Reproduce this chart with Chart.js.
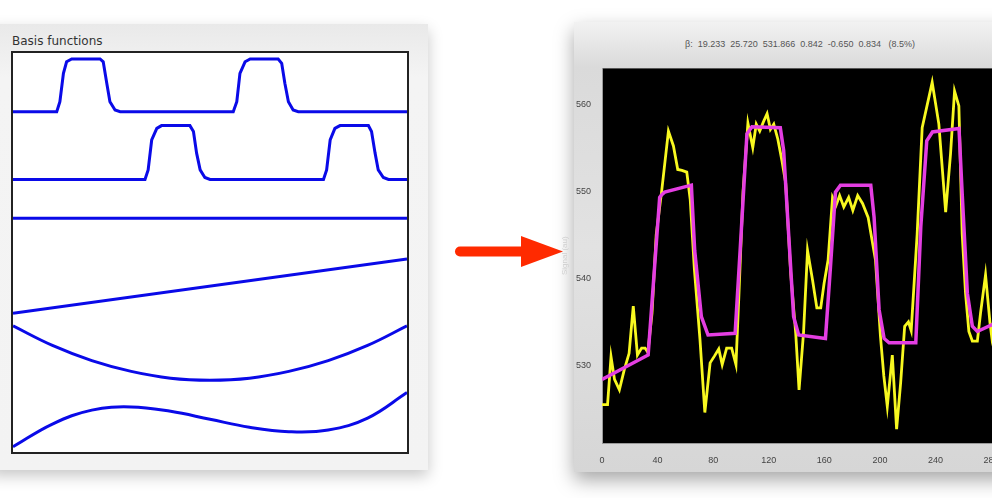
<!DOCTYPE html>
<html>
<head>
<meta charset="utf-8">
<script src="https://cdn.jsdelivr.net/npm/chart.js@4.4.0/dist/chart.umd.min.js"></script>
<style>
  body { margin: 0; width: 992px; height: 498px; overflow: hidden; background: #fff; position: relative; font-family: "DejaVu Sans", sans-serif; }
  #leftPanel { position: absolute; left: -10px; top: 24px; width: 438px; height: 446px; background: linear-gradient(#e9e9e9, #f4f4f4 12%, #f3f3f3); box-shadow: 0 6px 14px rgba(0,0,0,0.22); }
  #leftTitle { position: absolute; left: 12px; top: 34px; font-size: 12px; color: #333; }
  #basisBox { position: absolute; left: 11px; top: 51px; width: 394px; height: 399px; border: 2px solid #222; background: #fff; }
  #rightPanel { position: absolute; left: 574px; top: 22px; width: 440px; height: 450px; background: linear-gradient(#f2f2f2, #dadada 10%, #e2e2e2 50%, #d6d6d6); box-shadow: 0 8px 18px rgba(0,0,0,0.35); }
  #betaText { position: absolute; left: 600px; width: 400px; top: 39px; text-align: center; font-family: "Liberation Sans", sans-serif; font-size: 9px; color: #555; white-space: pre; }
  #signalChart { position: absolute; left: 560px; top: 60px; }
  #arrow { position: absolute; left: 450px; top: 230px; }
</style>
</head>
<body>
<div id="leftPanel"></div>
<div id="leftTitle">Basis functions</div>
<div id="basisBox"><canvas id="basisChart" width="394" height="399"></canvas></div>
<svg id="arrow" width="120" height="44">
  <line x1="10" y1="21.5" x2="75" y2="21.5" stroke="#ff2a00" stroke-width="10" stroke-linecap="round"/>
  <polygon points="71,6 113,21.5 71,37" fill="#ff2a00"/>
</svg>
<div id="rightPanel"></div>
<div id="betaText">β:  19.233  25.720  531.866  0.842  -0.650  0.834   (8.5%)</div>
<canvas id="signalChart" width="445" height="403"></canvas>
<script>
// basis functions, x in % of window, y in % of box height
const b1x = [0, 11.1, 11.9, 12.8, 13.6, 14.9, 22.1, 22.9, 23.8, 24.6, 25.9, 27.2, 55.9, 56.8, 57.6, 58.9, 60.2, 67.3, 68.2, 69.0, 69.9, 71.1, 72.4, 100];
const b1y = [85.3, 85.3, 87.8, 94.9, 97.8, 98.5, 98.5, 97.8, 92.4, 87.8, 85.7, 85.3, 85.3, 87.8, 94.9, 97.8, 98.5, 98.5, 97.4, 92.4, 87.8, 85.7, 85.3, 85.3];
const b2x = [0, 33.5, 34.3, 35.2, 36.5, 37.7, 44.9, 45.8, 46.6, 47.5, 48.7, 50.0, 78.8, 79.6, 80.5, 81.7, 83.0, 90.2, 91.0, 91.9, 92.7, 94.0, 95.3, 100];
const b2y = [68.3, 68.3, 70.7, 78.2, 81.1, 81.8, 81.8, 80.3, 74.9, 70.7, 68.8, 68.3, 68.3, 70.7, 78.2, 81.1, 81.8, 81.8, 80.3, 74.9, 70.7, 68.8, 68.3, 68.3];
const b3x = [0, 100];
const b3y = [58.6, 58.6];
const b4x = [0, 100];
const b4y = [34.8, 48.4];
const b5x = [0, 10, 20, 30, 40, 50, 60, 70, 80, 90, 100];
const b5y = [31.6, 26.7, 22.9, 20.2, 18.5, 18.0, 18.5, 20.2, 22.9, 26.7, 31.6];
const b6x = [0, 10, 20, 30, 40, 50, 60, 70, 80, 90, 100];
const b6y = [1.3, 7.0, 10.5, 11.3, 10.2, 8.2, 6.2, 5.1, 5.5, 8.5, 14.9];

// signal (yellow) and fit (magenta)
const sigX = [0, 4, 6.5, 9, 12.5, 16, 19.5, 22.5, 25.5, 28.5, 31, 33, 36, 39, 43, 47.8, 51.4, 54.5, 57.5, 61, 63.5, 66.5, 70.5, 74, 77.8, 81, 84, 86.5, 89.7, 93.3, 96.4, 98.5, 101.5, 105, 108.5, 111, 113.5, 116, 118.8, 121.2, 123.6, 126.5, 129.5, 132.2, 135.8, 139.4, 141.8, 145, 147.9, 151.5, 154.6, 157.4, 159.8, 162.7, 165.9, 168.5, 171, 174, 177.5, 180.5, 184, 187.5, 191.5, 196.8, 200.4, 202.8, 205.3, 208.9, 212, 214.9, 217.8, 220.5, 222.5, 226.8, 230.4, 237.6, 242.4, 247.3, 250.8, 253.7, 256.8, 259.2, 261.6, 264, 266.5, 270.1, 272.4, 276, 279.2, 281, 285];
const sigY = [525.5, 525.5, 531.0, 528.4, 527.2, 529.5, 531.4, 536.8, 531.2, 532.0, 532.0, 531.5, 536, 545, 550.1, 556.9, 555.2, 552.5, 552.4, 552.2, 549, 541, 533, 524.6, 530.3, 531.1, 531.9, 530.1, 532, 532, 530.1, 538, 550, 557.8, 555.0, 557.7, 556.9, 557.9, 558.9, 557.1, 557.7, 556.0, 553.5, 550.9, 540.6, 533.7, 527.2, 533.7, 543.2, 539.8, 536.6, 536.6, 539.4, 542.1, 549.3, 548.4, 549.5, 548.2, 549.3, 547.8, 549.5, 548.6, 547.0, 542.1, 533.3, 528.8, 525.3, 531.2, 522.7, 528, 534.5, 535, 534, 545.1, 557.3, 562.5, 557.7, 547.6, 554.3, 561.5, 559.8, 545.1, 538.3, 533.9, 532.8, 532.8, 536, 540.4, 534.9, 532.6, 530];
const fitX = [0, 33.2, 41.5, 43, 45.1, 64.3, 66.7, 71.5, 76.3, 95.8, 99.4, 104.3, 107.9, 128.3, 130.7, 134.3, 137.9, 141.5, 160.8, 164.4, 168, 171.6, 193.4, 195.8, 199.4, 203, 206.6, 225.8, 229.4, 233.7, 237.8, 256.9, 259.2, 262.9, 266.5, 270.1, 285];
const fitY = [528.4, 531.2, 549.3, 549.6, 549.9, 550.7, 543.2, 535.6, 533.5, 533.7, 543.2, 556.6, 557.4, 557.3, 554.7, 545.1, 535.6, 533.5, 533.1, 541.3, 549.9, 550.7, 550.7, 547.0, 536.4, 533.1, 532.6, 532.6, 545.9, 555.8, 556.8, 557.2, 549.7, 538.3, 534.5, 533.9, 535];

const xTicks = [0, 40, 80, 120, 160, 200, 240, 280];
const yTicks = [530, 540, 550, 560];

function pts(xs, ys) {
  return xs.map((x, i) => ({ x: x, y: ys[i] }));
}

function basisSet(xs, ys, smooth) {
  return {
    data: pts(xs, ys),
    borderColor: "#0a0ae8",
    borderWidth: 3,
    pointRadius: 0,
    tension: smooth ? 0.4 : 0,
  };
}

new Chart(document.getElementById("basisChart"), {
  type: "line",
  data: {
    datasets: [
      basisSet(b1x, b1y, false),
      basisSet(b2x, b2y, false),
      basisSet(b3x, b3y, false),
      basisSet(b4x, b4y, false),
      basisSet(b5x, b5y, true),
      basisSet(b6x, b6y, true),
    ],
  },
  options: {
    responsive: false,
    animation: false,
    layout: { padding: 0 },
    plugins: { legend: { display: false }, tooltip: { enabled: false } },
    scales: {
      x: { type: "linear", min: 0, max: 100, display: false },
      y: { min: 0, max: 100, display: false },
    },
  },
});

// black plot area
const blackArea = {
  id: "blackArea",
  beforeDraw(chart) {
    const a = chart.chartArea;
    chart.ctx.save();
    chart.ctx.fillStyle = "#000";
    chart.ctx.fillRect(a.left, a.top, a.right - a.left, a.bottom - a.top);
    chart.ctx.restore();
  },
};

const tickFont = { family: "Liberation Sans", size: 9 };

new Chart(document.getElementById("signalChart"), {
  type: "line",
  data: {
    datasets: [
      {
        data: pts(fitX, fitY),
        borderColor: "#e43ee2",
        borderWidth: 3.5,
        pointRadius: 0,
        tension: 0,
        order: 0,
      },
      {
        data: pts(sigX, sigY),
        borderColor: "#f8f820",
        borderWidth: 2.8,
        pointRadius: 0,
        tension: 0,
        order: 1,
      },
    ],
  },
  options: {
    responsive: false,
    animation: false,
    layout: { padding: { top: 3, right: 0, left: 0, bottom: 0 } },
    plugins: { legend: { display: false }, tooltip: { enabled: false } },
    scales: {
      x: {
        type: "linear",
        min: 0,
        max: 290,
        grid: { display: false },
        border: { color: "#999", width: 1 },
        afterBuildTicks: (s) => { s.ticks = xTicks.map((v) => ({ value: v })); },
        afterFit: (s) => { s.height = 20; },
        ticks: { color: "#444", font: tickFont, padding: 4, maxRotation: 0 },
      },
      y: {
        min: 521.1,
        max: 564.1,
        grid: { display: false },
        border: { color: "#999", width: 1 },
        afterBuildTicks: (s) => { s.ticks = yTicks.map((v) => ({ value: v })); },
        afterFit: (s) => { s.width = 42; },
        title: { display: true, text: "Signal (au)", color: "#cfcfcf", font: { family: "Liberation Sans", size: 8 }, padding: 0 },
        ticks: { color: "#444", font: tickFont, padding: 3 },
      },
    },
  },
  plugins: [blackArea],
});
</script>
</body>
</html>
